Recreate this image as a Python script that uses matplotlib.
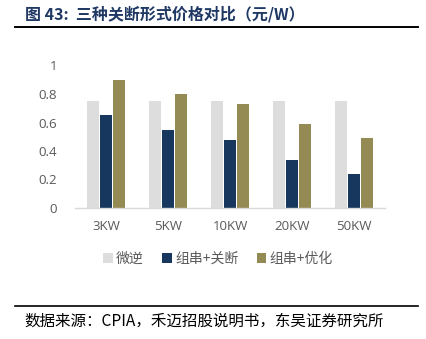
import matplotlib
matplotlib.use("Agg")
import matplotlib.pyplot as plt
import numpy as np

plt.rcParams['font.family'] = ['Noto Sans CJK SC', 'DejaVu Sans']

categories = ["3KW", "5KW", "10KW", "20KW", "50KW"]
series_names = ["微逆", "组串+关断", "组串+优化"]
micro_inv = [0.75, 0.75, 0.75, 0.75, 0.75]
string_rsd = [0.65, 0.55, 0.48, 0.34, 0.24]
string_opt = [0.90, 0.80, 0.73, 0.59, 0.49]
yticks = [0, 0.2, 0.4, 0.6, 0.8, 1]
ytick_labels = ["0", "0.2", "0.4", "0.6", "0.8", "1"]
colors = ["#DDDDDD", "#17375E", "#948A54"]

W, H = 426, 339
fig = plt.figure(figsize=(W / 100, H / 100), dpi=100)

# plot area in pixel coordinates
left, right, top, bottom = 75, 385, 65.5, 208
ax = fig.add_axes([left / W, 1 - bottom / H, (right - left) / W, (bottom - top) / H])

x = np.arange(len(categories))
bw = 0.19
step = 0.215
for i, (vals, name, c) in enumerate(zip([micro_inv, string_rsd, string_opt], series_names, colors)):
    ax.bar(x + (i - 1) * step, vals, width=bw, color=c, label=name, zorder=2)

ax.set_xlim(-0.5, len(categories) - 0.5)
ax.set_ylim(0, 1)
ax.set_yticks(yticks)
ax.set_yticklabels(ytick_labels)
ax.set_xticks(x)
ax.set_xticklabels(categories)
for s in ["top", "right", "left"]:
    ax.spines[s].set_visible(False)
ax.spines["bottom"].set_color("#D9D9D9")
ax.spines["bottom"].set_linewidth(1.0)
ax.tick_params(axis="both", length=0, labelsize=9.5, labelcolor="#595959")
ax.tick_params(axis="y", pad=13)
ax.tick_params(axis="x", pad=9)
for lab in ax.get_xticklabels() + ax.get_yticklabels():
    lab.set_family(['Open Sans', 'DejaVu Sans'])

leg = fig.legend(loc="center", bbox_to_anchor=(218 / W, 1 - 259 / H), ncol=3, frameon=False,
                 fontsize=10, handlelength=0.7, handleheight=0.7, handletextpad=0.25,
                 columnspacing=1.3, labelcolor="#595959")

# title and source lines
fig.text(25 / W, 1 - 14 / H, "图 43:  三种关断形式价格对比（元/W）", fontsize=11.5, fontweight="bold",
         color="#1F3864", va="center", ha="left")
fig.add_artist(plt.Line2D([15 / W, 418 / W], [1 - 27 / H, 1 - 27 / H], color="black", lw=1.4))
fig.add_artist(plt.Line2D([15 / W, 418 / W], [1 - 306 / H, 1 - 306 / H], color="black", lw=1.2))
fig.text(24 / W, 1 - 321 / H, "数据来源：CPIA，禾迈招股说明书，东吴证券研究所", fontsize=11.2,
         color="black", va="center", ha="left")

fig.savefig("out.png", dpi=100)
